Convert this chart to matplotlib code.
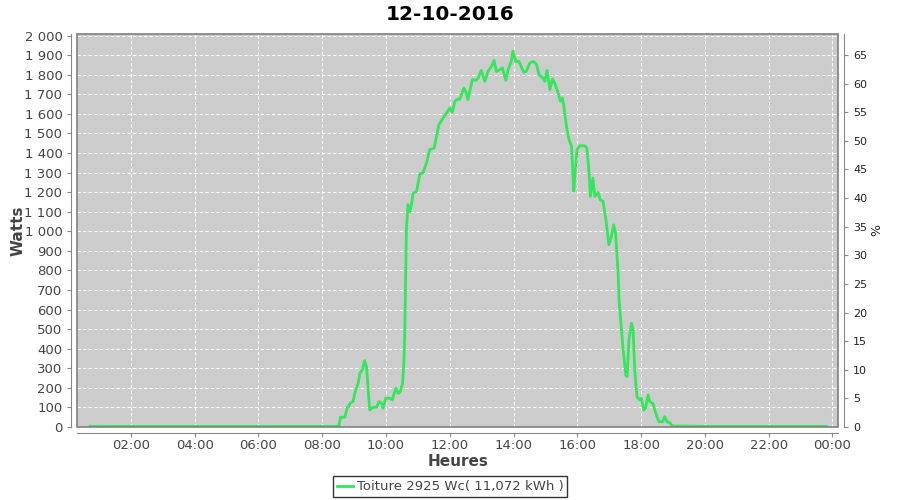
import matplotlib
matplotlib.use("Agg")
import matplotlib.pyplot as plt
from matplotlib.patches import Rectangle
from matplotlib.ticker import FuncFormatter, MultipleLocator

# heures décimales / puissance (W)
hours = [0.72, 2.0, 4.0, 6.0, 8.0, 8.50,
         8.52, 8.57, 8.71, 8.78, 8.89, 8.97, 9.02, 9.13, 9.18, 9.26, 9.33, 9.39,
         9.44, 9.49, 9.60, 9.70, 9.78, 9.86, 9.91, 9.99, 10.12, 10.20, 10.24,
         10.31, 10.38, 10.45, 10.52, 10.56, 10.59,
         10.64, 10.69, 10.75, 10.80, 10.85, 10.96, 11.06, 11.16, 11.27, 11.37,
         11.51, 11.66, 11.79, 11.90, 12.00, 12.08, 12.16, 12.26, 12.31, 12.44,
         12.50, 12.57, 12.71, 12.82, 12.89, 12.99, 13.10, 13.20, 13.31, 13.39,
         13.46, 13.57, 13.65, 13.76, 13.83, 13.93, 13.98, 14.07, 14.17, 14.32,
         14.40, 14.51, 14.63, 14.72, 14.80, 14.92, 14.98, 15.05, 15.14, 15.22,
         15.29, 15.40, 15.47, 15.53, 15.57, 15.66, 15.74, 15.82, 15.89, 15.92,
         15.99, 16.08, 16.23, 16.30, 16.37, 16.41, 16.49, 16.55, 16.65, 16.72,
         16.81, 16.91, 16.99, 17.07, 17.14, 17.20, 17.28, 17.31, 17.38, 17.43,
         17.52, 17.56, 17.62, 17.70, 17.75, 17.80, 17.87, 17.96, 18.01, 18.08,
         18.14, 18.22, 18.27, 18.37, 18.46, 18.56, 18.67, 18.74, 18.81, 18.90,
         18.98, 20.0, 22.0, 23.80]
watts = [3, 3, 3, 3, 3, 3,
         0, 50, 50, 96, 124, 130, 172, 224, 275, 292, 339, 308,
         189, 87, 101, 101, 130, 121, 96, 147, 147, 138, 164,
         198, 172, 181, 224, 326, 496,
         1008, 1136, 1101, 1136, 1195, 1204, 1294, 1298, 1349, 1417,
         1425, 1545, 1579, 1604, 1630, 1608, 1664, 1676, 1673, 1732,
         1715, 1673, 1775, 1771, 1783, 1822, 1766, 1817, 1843, 1873,
         1817, 1826, 1835, 1771, 1826, 1868, 1920, 1868, 1868, 1812,
         1817, 1860, 1868, 1852, 1800, 1783, 1766, 1822, 1724, 1778,
         1757, 1707, 1664, 1681, 1647, 1536, 1468, 1434, 1204, 1280,
         1417, 1437, 1437, 1425, 1298, 1178, 1272, 1178, 1198, 1161,
         1152, 1042, 931, 973, 1033, 991, 786, 645, 508, 409,
         266, 258, 445, 530, 496, 292, 155, 138, 147, 87,
         96, 164, 130, 121, 70, 27, 27, 53, 27, 22,
         5, 3, 3, 3]

x_ticks = [2, 4, 6, 8, 10, 12, 14, 16, 18, 20, 22, 24]
x_labels = ["02:00", "04:00", "06:00", "08:00", "10:00", "12:00",
            "14:00", "16:00", "18:00", "20:00", "22:00", "00:00"]
peak_wc = 2925
series_label = "Toiture 2925 Wc( 11,072 kWh )"
title = "12-10-2016"

ymax = 2008
gray_txt = "#444444"

fig = plt.figure(figsize=(9, 5), dpi=100)
ax = fig.add_axes([0.0856, 0.146, 0.846, 0.786])
ax.set_facecolor("#CCCCCC")

line, = ax.plot(hours, watts, color="#33E65A", linewidth=2, label=series_label)

ax.set_xlim(0.31, 24.19)
ax.set_ylim(0, ymax)
ax.set_xticks(x_ticks)
ax.set_xticklabels(x_labels)
ax.yaxis.set_major_locator(MultipleLocator(100))
ax.yaxis.set_major_formatter(FuncFormatter(lambda v, p: f"{v:,.0f}".replace(",", " ")))
ax.grid(True, color="white", linestyle=(0, (3, 2)), linewidth=0.8)

for s in ["top", "right"]:
    ax.spines[s].set_visible(False)
for s in ["left", "bottom"]:
    ax.spines[s].set_position(("outward", 4))
    ax.spines[s].set_color("#888888")
ax.add_patch(Rectangle((0, 0), 1, 1, transform=ax.transAxes, fill=False,
                       edgecolor="#808080", linewidth=1.2, clip_on=False, zorder=5))
ax.tick_params(axis="both", colors="#888888", labelcolor=gray_txt, labelsize=9.5, length=3)
ax.tick_params(axis="x", pad=1.5)

ax2 = ax.twinx()
ax2.set_ylim(0, ymax / peak_wc * 100)
ax2.yaxis.set_major_locator(MultipleLocator(5))
for s in ["top", "left", "bottom"]:
    ax2.spines[s].set_visible(False)
ax2.spines["right"].set_position(("outward", 4))
ax2.spines["right"].set_color("#888888")
ax2.tick_params(axis="y", colors="#888888", labelcolor="#222222", labelsize=8, length=3)
ax2.set_ylabel("%", fontsize=9, color="#222222", labelpad=2)

ax.set_ylabel("Watts", fontsize=11, fontweight="bold", color=gray_txt)
ax.yaxis.set_label_coords(-0.068, 0.5)
ax.set_xlabel("Heures", fontsize=11, fontweight="bold", color=gray_txt)
ax.xaxis.set_label_coords(0.5, -0.069)
fig.suptitle(title, fontsize=14.5, fontweight="bold", y=0.99)

leg = fig.legend(handles=[line], loc="lower center", bbox_to_anchor=(0.5, -0.008),
                 frameon=True, fancybox=False, edgecolor="black", fontsize=9.5,
                 handlelength=1.2, handletextpad=0.3, borderpad=0.3)
leg.get_frame().set_linewidth(1)
for t in leg.get_texts():
    t.set_color(gray_txt)

fig.savefig("out.png", dpi=100)
